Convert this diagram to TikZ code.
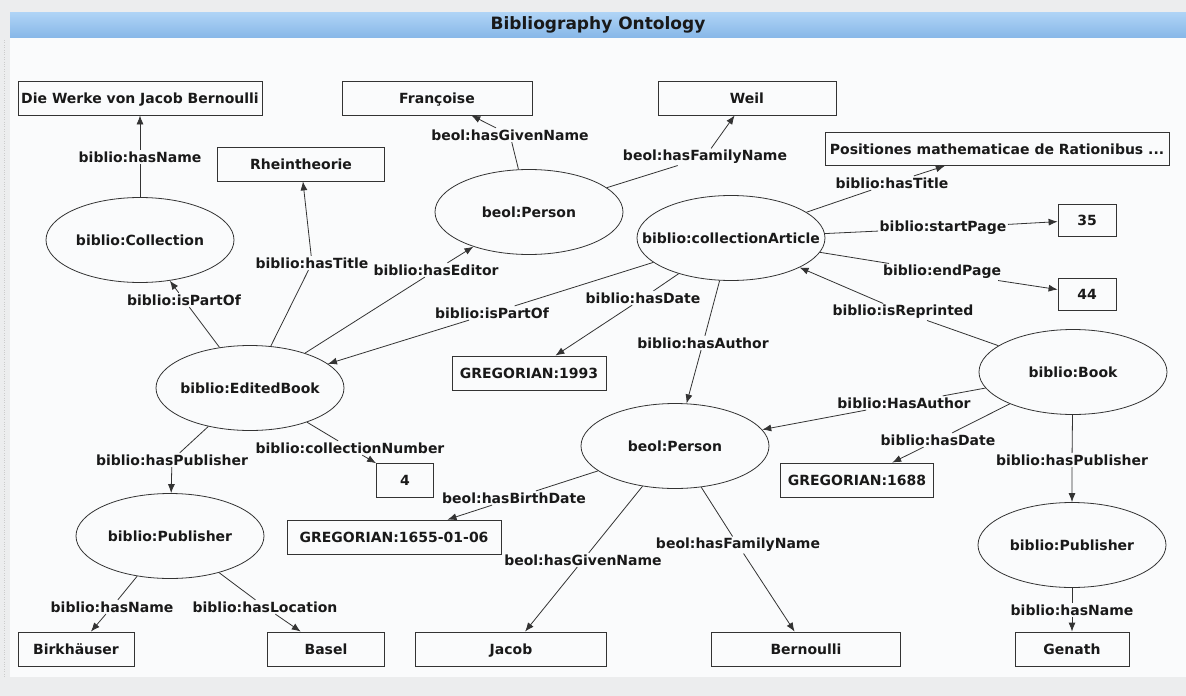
\documentclass[tikz,border=0pt]{standalone}
\usepackage{fontspec}
\setmainfont{DejaVu Sans}
\usetikzlibrary{shapes.geometric,arrows.meta}

\begin{document}
\begin{tikzpicture}[x=1pt, y=-1pt,
    every node/.style={font=\bfseries\fontsize{14}{16}\selectfont, text=black!90},
    class/.style={draw=lineColour, ellipse, line width=0.8pt, inner sep=0pt,
        minimum width=188pt, minimum height=85pt,
        execute at begin node={\hbox to 0pt\bgroup\hss},
        execute at end node={\hss\egroup}},
    literal/.style={draw=lineColour, rectangle, line width=0.8pt, inner sep=2pt,
        text height=10pt, text depth=0pt, minimum height=34pt},
    prop/.style={inner sep=1.5pt},
    edge/.style={draw=lineColour, line width=0.8pt, -{Latex[length=9pt,width=7pt]}}]

    % Define colours
    \definecolor{lineColour}{HTML}{333333}
    \definecolor{panelColour}{HTML}{FAFBFC}
    \definecolor{frameColour}{HTML}{ECEDEE}
    \definecolor{barTop}{HTML}{B0D4F6}
    \definecolor{barBottom}{HTML}{88B8E8}

    % Background and title bar
    \useasboundingbox (0,0) rectangle (1186,696);
    \fill[frameColour] (0,0) rectangle (1186,696);
    \fill[panelColour] (10,12) rectangle (1186,677);
    \draw[gray!40, dotted] (4,40) -- (4,677);
    \shade[top color=barTop, bottom color=barBottom] (10,12) rectangle (1186,37);
    \node[font=\bfseries\fontsize{17}{20}\selectfont] (title) at (598,25) {Bibliography Ontology};

    % Classes
    \node[class] (coll)   at (140,240)  {biblio:Collection};
    \node[class] (pers1)  at (529,212)  {beol:Person};
    \node[class] (art)    at (731,238)  {biblio:collectionArticle};
    \node[class] (edbook) at (250,388)  {biblio:EditedBook};
    \node[class] (book)   at (1073,372) {biblio:Book};
    \node[class] (pers2)  at (675,446)  {beol:Person};
    \node[class] (pub1)   at (170,536)  {biblio:Publisher};
    \node[class] (pub2)   at (1072,545) {biblio:Publisher};

    % Literals
    \node[literal, minimum width=244pt] (werke)  at (140,98)   {Die Werke von Jacob Bernoulli};
    \node[literal, minimum width=190pt] (franc)  at (437,98)   {Françoise};
    \node[literal, minimum width=178pt] (weil)   at (747,98)   {Weil};
    \node[literal, minimum width=167pt] (rhein)  at (301,164)  {Rheintheorie};
    \node[literal, minimum width=344pt, minimum height=33pt] (posit) at (997,149) {Positiones mathematicae de Rationibus ...};
    \node[literal, minimum width=58pt, minimum height=32pt] (start) at (1087,220) {35};
    \node[literal, minimum width=58pt, minimum height=32pt] (end)   at (1087,294) {44};
    \node[literal, minimum width=154pt] (dateA)  at (529,373)  {GREGORIAN:1993};
    \node[literal, minimum width=57pt]  (number) at (405,480)  {4};
    \node[literal, minimum width=153pt] (dateB)  at (857,480)  {GREGORIAN:1688};
    \node[literal, minimum width=214pt] (birth)  at (394,537)  {GREGORIAN:1655-01-06};
    \node[literal, minimum width=116pt] (birk)   at (76,649)   {Birkhäuser};
    \node[literal, minimum width=117pt] (basel)  at (326,649)  {Basel};
    \node[literal, minimum width=191pt] (jacob)  at (511,649)  {Jacob};
    \node[literal, minimum width=189pt] (bern)   at (806,649)  {Bernoulli};
    \node[literal, minimum width=114pt] (genath) at (1072,649) {Genath};

    % Property labels
    \node[prop] (collName)    at (140,157)  {biblio:hasName};
    \node[prop] (givenA)      at (510,135)  {beol:hasGivenName};
    \node[prop] (familyA)     at (705,157)  {beol:hasFamilyName};
    \node[prop] (artTitle)    at (892,183)  {biblio:hasTitle};
    \node[prop] (startPage)   at (943,228)  {biblio:startPage};
    \node[prop] (endPage)     at (942,272)  {biblio:endPage};
    \node[prop] (reprinted)   at (903,312)  {biblio:isReprinted};
    \node[prop] (artDate)     at (643,298)  {biblio:hasDate};
    \node[prop] (artAuthor)   at (703,343)  {biblio:hasAuthor};
    \node[prop] (artPart)     at (492,313)  {biblio:isPartOf};
    \node[prop] (editor)      at (436,270)  {biblio:hasEditor};
    \node[prop] (bookTitle)   at (312,263)  {biblio:hasTitle};
    \node[prop] (bookPart)    at (184,300)  {biblio:isPartOf};
    \node[prop] (collNumber)  at (350,448)  {biblio:collectionNumber};
    \node[prop] (publisherA)  at (172,460)  {biblio:hasPublisher};
    \node[prop] (pubNameA)    at (112,607)  {biblio:hasName};
    \node[prop] (location)    at (265,607)  {biblio:hasLocation};
    \node[prop] (birthDate)   at (514,498)  {beol:hasBirthDate};
    \node[prop] (givenB)      at (583,560)  {beol:hasGivenName};
    \node[prop] (familyB)     at (738,545)  {beol:hasFamilyName};
    \node[prop] (bookAuthor)  at (904,403)  {biblio:HasAuthor};
    \node[prop] (bookDate)    at (938,440)  {biblio:hasDate};
    \node[prop] (publisherB)  at (1072,460) {biblio:hasPublisher};
    \node[prop] (pubNameB)    at (1072,610) {biblio:hasName};

    % Draw relations
    \draw[edge] (coll)   -- (collName)   -- (werke);
    \draw[edge] (pers1)  -- (givenA)     -- (franc);
    \draw[edge] (pers1)  -- (familyA)    -- (weil);
    \draw[edge] (art)    -- (artTitle)   -- (posit);
    \draw[edge] (art)    -- (startPage)  -- (start);
    \draw[edge] (art)    -- (endPage)    -- (end);
    \draw[edge] (book)   -- (reprinted)  -- (art);
    \draw[edge] (art)    -- (artDate)    -- (dateA);
    \draw[edge] (art)    -- (artAuthor)  -- (pers2);
    \draw[edge] (art)    -- (artPart)    -- (edbook);
    \draw[edge] (edbook) -- (editor)     -- (pers1);
    \draw[edge] (edbook) -- (bookTitle)  -- (rhein);
    \draw[edge] (edbook) -- (bookPart)   -- (coll);
    \draw[edge] (edbook) -- (collNumber) -- (number);
    \draw[edge] (edbook) -- (publisherA) -- (pub1);
    \draw[edge] (pub1)   -- (pubNameA)   -- (birk);
    \draw[edge] (pub1)   -- (location)   -- (basel);
    \draw[edge] (pers2)  -- (birthDate)  -- (birth);
    \draw[edge] (pers2)  -- (givenB)     -- (jacob);
    \draw[edge] (pers2)  -- (familyB)    -- (bern);
    \draw[edge] (book)   -- (bookAuthor) -- (pers2);
    \draw[edge] (book)   -- (bookDate)   -- (dateB);
    \draw[edge] (book)   -- (publisherB) -- (pub2);
    \draw[edge] (pub2)   -- (pubNameB)   -- (genath);

\end{tikzpicture}
\end{document}
